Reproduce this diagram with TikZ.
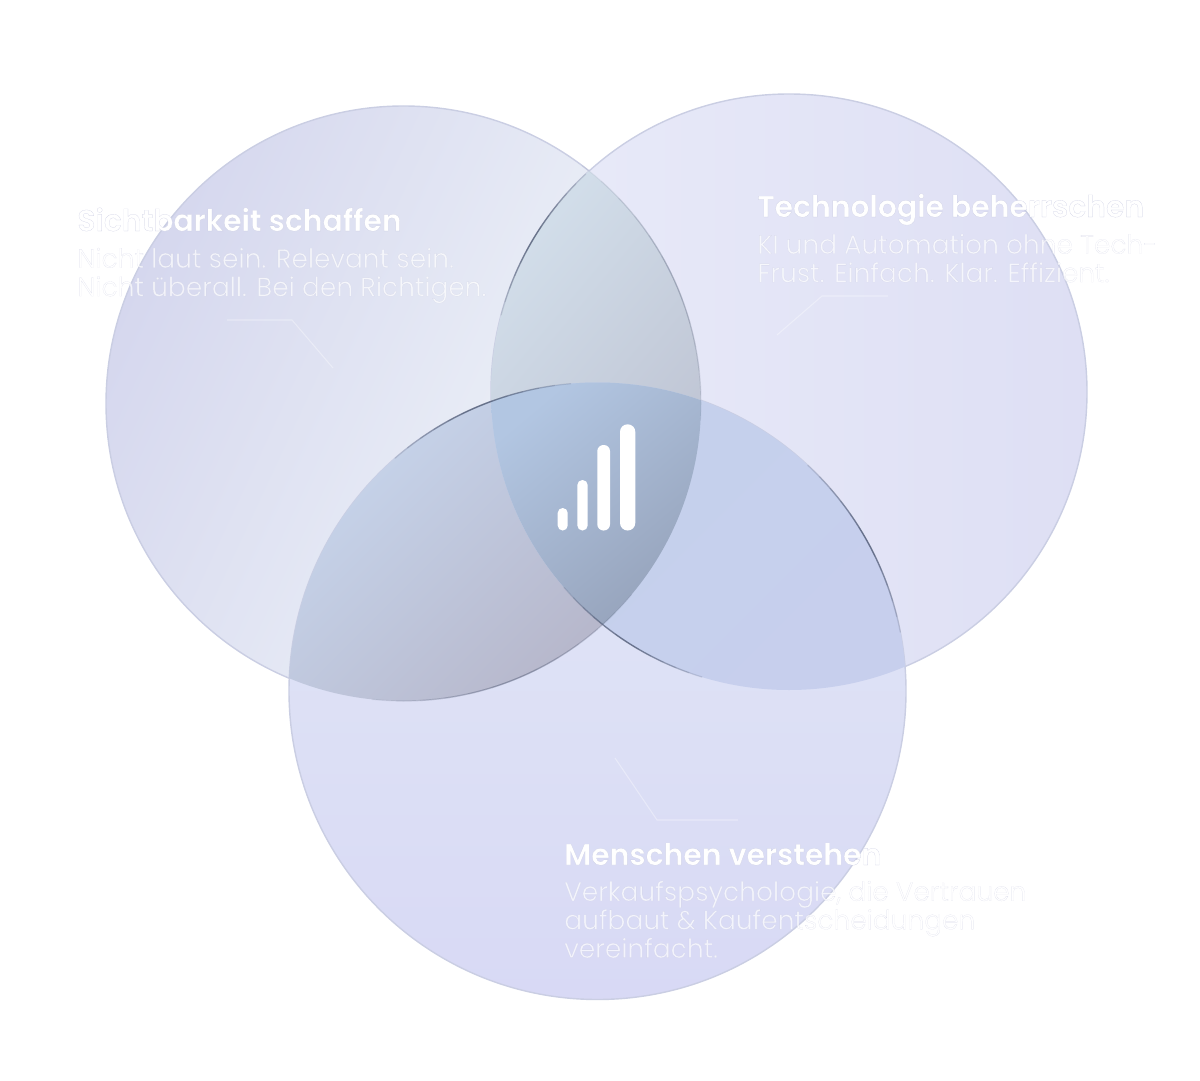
\documentclass[tikz,border=0pt]{standalone}
\usepackage{fontspec}
\setmainfont{Poppins}
\newfontfamily\headfont{Poppins SemiBold}[FakeBold=0.45]
\newfontfamily\copyfont{Poppins Light}[FakeBold=0.35,LetterSpace=0.25]
\usetikzlibrary{calc}

\definecolor{rimblue}{HTML}{CACEE3}
\definecolor{rimdark}{HTML}{3A4560}
\newcommand{\rimink}{\special{pdf:code 0.78 0.79 0.88 RG}}
% centre, radius, middle angle, half span, strength
\newcommand{\softrim}[5]{%
  \foreach \i in {1,...,6} {
    \pgfmathsetmacro{\aa}{#3-\i*#4/6}
    \pgfmathsetmacro{\ab}{#3+\i*#4/6}
    \draw[edge, rimdark, opacity=#5] (#1) ++(\aa:#2) arc [start angle=\aa, end angle=\ab, radius=#2];
  }
}
\tikzset{
  disc/.style={line width=0.8pt, draw=rimblue},
  heading/.style={anchor=base west, inner sep=0pt, text=white,
    font=\headfont\fontsize{17}{20}\selectfont},
  bodycopy/.style={anchor=north west, inner sep=0pt, align=left, text=white, text opacity=0.7,
    font=\copyfont\fontsize{15}{16.2}\selectfont},
  faint/.style={white, opacity=0.35, line width=0.6pt},
  edge/.style={line width=0.7pt, line cap=round},
}

\begin{document}
\begin{tikzpicture}[x=0.02cm,y=-0.02cm]
\useasboundingbox (0,0) rectangle (1200,1081);
\coordinate (sight) at (403.5,403.5);
\coordinate (tech) at (789,392);
\coordinate (people) at (597.5,691);
\def\rs{297.5}
\def\rt{298}
\def\rp{308.5}
% Draw circles
\shade[disc, left color={rgb,255:red,213;green,215;blue,238}, right color={rgb,255:red,243;green,248;blue,250}, shading angle=65] (sight) circle [radius=\rs];
\shade[disc, left color={rgb,255:red,233;green,235;blue,249}, right color={rgb,255:red,222;green,223;blue,244}, shading angle=90] (tech) circle [radius=\rt];
\shade[disc, top color={rgb,255:red,226;green,232;blue,246}, bottom color={rgb,255:red,216;green,217;blue,245}] (people) circle [radius=\rp];
% Draw overlaps
\begin{scope}
\clip (sight) circle [radius=\rs];
\clip (tech) circle [radius=\rt];
\shade[left color={rgb,255:red,210;green,222;blue,234}, right color={rgb,255:red,186;green,190;blue,206}, shading angle=50] (490,170) rectangle (702,640);
\end{scope}
\begin{scope}
\clip (sight) circle [radius=\rs];
\clip (people) circle [radius=\rp];
\shade[left color={rgb,255:red,200;green,215;blue,238}, right color={rgb,255:red,183;green,184;blue,204}, shading angle=45] (289,382) rectangle (610,702);
\end{scope}
\begin{scope}
\clip (tech) circle [radius=\rt];
\clip (people) circle [radius=\rp];
\shade[left color={rgb,255:red,196;green,209;blue,236}, right color={rgb,255:red,199;green,207;blue,237}, shading angle=45] (490,382) rectangle (906,690);
\end{scope}
\begin{scope}
\clip (sight) circle [radius=\rs];
\clip (tech) circle [radius=\rt];
\clip (people) circle [radius=\rp];
\shade[left color={rgb,255:red,178;green,198;blue,226}, right color={rgb,255:red,150;green,163;blue,187}, shading angle=40] (491,382) rectangle (702,625);
\end{scope}
% Darker rims
\softrim{people}{\rp}{-113}{18}{0.17}
\softrim{people}{\rp}{-29}{18}{0.17}
\softrim{tech}{\rt}{123}{16}{0.17}
\softrim{tech}{\rt}{211}{16}{0.17}
\softrim{sight}{\rs}{68}{28}{0.08}
\softrim{sight}{\rs}{-25}{28}{0.06}
% Faint lines
\coordinate (sa) at (227,320);
\coordinate (sb) at (292,320);
\coordinate (sc) at (333,368);
\coordinate (ta) at (777,335);
\coordinate (tb) at (822,296);
\coordinate (tc) at (888,296);
\coordinate (pa) at (615,758);
\coordinate (pb) at (657,820);
\coordinate (pc) at (738,820);
\draw[faint] (sa) -- (sb) -- (sc);
\draw[faint] (ta) -- (tb) -- (tc);
\draw[faint] (pa) -- (pb) -- (pc);
% Bars in the middle
\foreach \xa/\xb/\ya/\rr in {557.7/567.7/508/2.8, 577.3/587.7/480/2.9, 597.3/610/445/3.5, 620/635.3/424.3/4.3}
  \fill[white, rounded corners=\rr pt] (\xa,\ya) rectangle (\xb,530.5);
% Labels
\node[heading] (sighthead) at (77,231) {\rimink Sichtbarkeit schaffen};
\node[bodycopy] (sightcopy) at (77,247.5) {\rimink Nicht laut sein. Relevant sein.\\\rimink Nicht überall. Bei den Richtigen.};
\node[heading] (techhead) at (757,217) {\rimink Technologie beherrschen};
\node[bodycopy] (techcopy) at (757,233.5) {\rimink KI und Automation ohne Tech-\\\rimink Frust. Einfach. Klar. Effizient.};
\node[heading] (peoplehead) at (564,865) {\rimink Menschen verstehen};
\node[bodycopy] (peoplecopy) at (564,880.5) {\rimink Verkaufspsychologie, die Vertrauen\\\rimink aufbaut \& Kaufentscheidungen\\\rimink vereinfacht.};
\end{tikzpicture}
\end{document}
